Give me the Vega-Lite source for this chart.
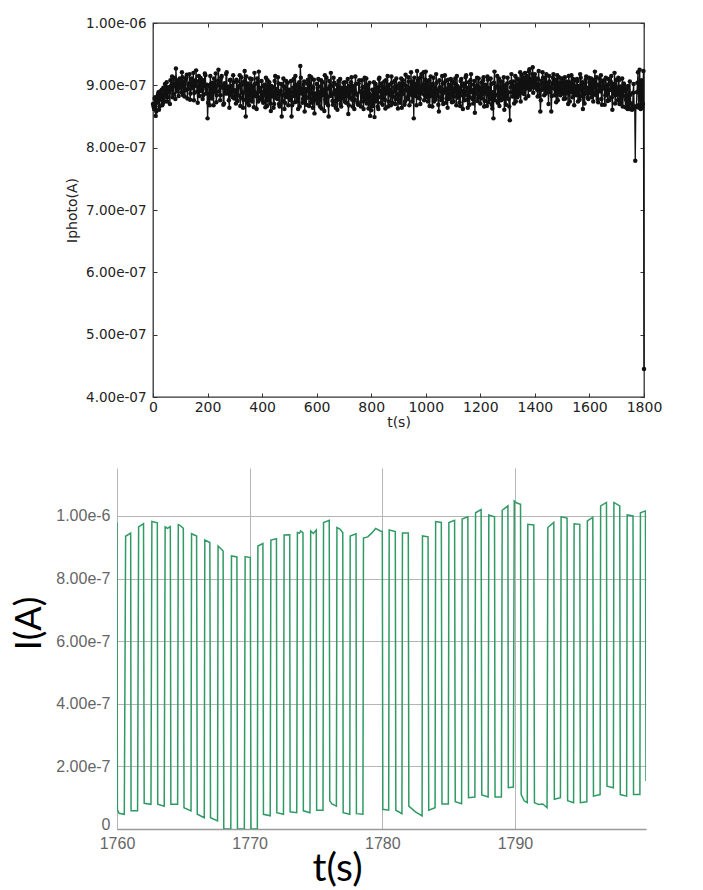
{
  "$schema": "https://vega.github.io/schema/vega-lite/v6.json",
  "background": "white",
  "padding": {"left": 11, "top": 15, "right": 0, "bottom": 0},
  "config": {
    "view": {"stroke": null},
    "axis": {"labelOverlap": false, "labelFlush": false, "titleFontWeight": "normal"}
  },
  "datasets": {
    "photo": [
      {"t":0,"i":8.70e-7},{"t":4,"i":8.62e-7},{"t":8,"i":8.81e-7},{"t":12,"i":8.58e-7},{"t":16,"i":8.76e-7},{"t":20,"i":8.89e-7},{"t":24,"i":8.66e-7},{"t":28,"i":8.84e-7},{"t":32,"i":8.93e-7},{"t":36,"i":8.71e-7},{"t":40,"i":8.80e-7},{"t":44,"i":9.02e-7},{"t":48,"i":8.85e-7},{"t":52,"i":8.74e-7},{"t":56,"i":8.97e-7},{"t":60,"i":8.89e-7},{"t":64,"i":9.08e-7},{"t":68,"i":8.93e-7},{"t":72,"i":8.81e-7},{"t":76,"i":9.12e-7},{"t":80,"i":8.99e-7},{"t":84,"i":9.27e-7},{"t":88,"i":8.90e-7},{"t":92,"i":9.04e-7},{"t":96,"i":8.96e-7},
      {"t":100,"i":9.05e-7},{"t":104,"i":8.89e-7},{"t":108,"i":9.13e-7},{"t":112,"i":8.98e-7},{"t":116,"i":8.82e-7},{"t":120,"i":9.09e-7},{"t":124,"i":9.17e-7},{"t":128,"i":8.94e-7},{"t":132,"i":9.03e-7},{"t":136,"i":8.77e-7},{"t":140,"i":9.11e-7},{"t":144,"i":8.96e-7},{"t":148,"i":9.20e-7},{"t":152,"i":8.88e-7},{"t":156,"i":9.07e-7},{"t":160,"i":8.99e-7},{"t":164,"i":8.72e-7},{"t":168,"i":9.15e-7},{"t":172,"i":9.02e-7},{"t":176,"i":8.91e-7},{"t":180,"i":9.09e-7},{"t":184,"i":8.84e-7},{"t":188,"i":8.98e-7},{"t":192,"i":9.16e-7},{"t":196,"i":8.93e-7},
      {"t":200,"i":8.47e-7},{"t":204,"i":8.86e-7},{"t":208,"i":8.68e-7},{"t":212,"i":9.02e-7},{"t":216,"i":8.79e-7},{"t":220,"i":8.95e-7},{"t":224,"i":9.11e-7},{"t":228,"i":8.89e-7},{"t":232,"i":8.73e-7},{"t":236,"i":9.00e-7},{"t":240,"i":9.25e-7},{"t":244,"i":9.06e-7},{"t":248,"i":8.84e-7},{"t":252,"i":9.15e-7},{"t":256,"i":8.96e-7},{"t":260,"i":8.71e-7},{"t":264,"i":9.03e-7},{"t":268,"i":9.18e-7},{"t":272,"i":8.87e-7},{"t":276,"i":8.98e-7},{"t":280,"i":8.64e-7},{"t":284,"i":9.09e-7},{"t":288,"i":8.93e-7},{"t":292,"i":8.81e-7},{"t":296,"i":9.05e-7},
      {"t":300,"i":8.92e-7},{"t":304,"i":8.71e-7},{"t":308,"i":9.06e-7},{"t":312,"i":8.84e-7},{"t":316,"i":8.99e-7},{"t":320,"i":8.67e-7},{"t":324,"i":9.13e-7},{"t":328,"i":8.88e-7},{"t":332,"i":8.77e-7},{"t":336,"i":9.23e-7},{"t":340,"i":8.50e-7},{"t":344,"i":8.95e-7},{"t":348,"i":9.03e-7},{"t":352,"i":8.68e-7},{"t":356,"i":9.11e-7},{"t":360,"i":8.86e-7},{"t":364,"i":8.74e-7},{"t":368,"i":8.99e-7},{"t":372,"i":9.20e-7},{"t":376,"i":8.83e-7},{"t":380,"i":8.62e-7},{"t":384,"i":9.05e-7},{"t":388,"i":9.22e-7},{"t":392,"i":8.90e-7},{"t":396,"i":8.78e-7},
      {"t":400,"i":8.89e-7},{"t":404,"i":8.72e-7},{"t":408,"i":9.01e-7},{"t":412,"i":8.65e-7},{"t":416,"i":8.84e-7},{"t":420,"i":9.08e-7},{"t":424,"i":8.76e-7},{"t":428,"i":8.93e-7},{"t":432,"i":8.59e-7},{"t":436,"i":8.82e-7},{"t":440,"i":8.97e-7},{"t":444,"i":8.70e-7},{"t":448,"i":9.15e-7},{"t":452,"i":8.87e-7},{"t":456,"i":8.78e-7},{"t":460,"i":9.03e-7},{"t":464,"i":8.66e-7},{"t":468,"i":8.91e-7},{"t":472,"i":8.50e-7},{"t":476,"i":8.84e-7},{"t":480,"i":8.98e-7},{"t":484,"i":8.72e-7},{"t":488,"i":9.07e-7},{"t":492,"i":8.81e-7},{"t":496,"i":8.68e-7},
      {"t":500,"i":8.93e-7},{"t":504,"i":8.76e-7},{"t":508,"i":8.50e-7},{"t":512,"i":8.89e-7},{"t":516,"i":9.10e-7},{"t":520,"i":8.73e-7},{"t":524,"i":8.98e-7},{"t":528,"i":8.84e-7},{"t":532,"i":8.62e-7},{"t":536,"i":9.05e-7},{"t":540,"i":9.31e-7},{"t":544,"i":8.87e-7},{"t":548,"i":8.72e-7},{"t":552,"i":9.01e-7},{"t":556,"i":8.58e-7},{"t":560,"i":8.94e-7},{"t":564,"i":8.80e-7},{"t":568,"i":9.09e-7},{"t":572,"i":8.67e-7},{"t":576,"i":8.90e-7},{"t":580,"i":9.13e-7},{"t":584,"i":8.78e-7},{"t":588,"i":8.96e-7},{"t":592,"i":8.55e-7},{"t":596,"i":8.85e-7},
      {"t":600,"i":9.02e-7},{"t":604,"i":8.71e-7},{"t":608,"i":8.89e-7},{"t":612,"i":8.66e-7},{"t":616,"i":9.08e-7},{"t":620,"i":8.84e-7},{"t":624,"i":8.93e-7},{"t":628,"i":8.59e-7},{"t":632,"i":8.77e-7},{"t":636,"i":9.12e-7},{"t":640,"i":8.81e-7},{"t":644,"i":8.50e-7},{"t":648,"i":8.98e-7},{"t":652,"i":9.20e-7},{"t":656,"i":8.87e-7},{"t":660,"i":8.69e-7},{"t":664,"i":9.04e-7},{"t":668,"i":8.75e-7},{"t":672,"i":8.92e-7},{"t":676,"i":8.61e-7},{"t":680,"i":9.07e-7},{"t":684,"i":8.83e-7},{"t":688,"i":8.70e-7},{"t":692,"i":8.96e-7},{"t":696,"i":8.79e-7},
      {"t":700,"i":8.88e-7},{"t":704,"i":9.05e-7},{"t":708,"i":8.72e-7},{"t":712,"i":8.91e-7},{"t":716,"i":8.54e-7},{"t":720,"i":8.99e-7},{"t":724,"i":8.80e-7},{"t":728,"i":9.13e-7},{"t":732,"i":8.66e-7},{"t":736,"i":8.94e-7},{"t":740,"i":8.77e-7},{"t":744,"i":9.02e-7},{"t":748,"i":8.85e-7},{"t":752,"i":8.69e-7},{"t":756,"i":9.08e-7},{"t":760,"i":8.90e-7},{"t":764,"i":8.74e-7},{"t":768,"i":8.97e-7},{"t":772,"i":8.62e-7},{"t":776,"i":9.12e-7},{"t":780,"i":8.83e-7},{"t":784,"i":8.71e-7},{"t":788,"i":9.00e-7},{"t":792,"i":8.87e-7},{"t":796,"i":8.51e-7},
      {"t":800,"i":8.60e-7},{"t":804,"i":8.93e-7},{"t":808,"i":8.76e-7},{"t":812,"i":8.49e-7},{"t":816,"i":9.02e-7},{"t":820,"i":8.84e-7},{"t":824,"i":8.66e-7},{"t":828,"i":9.10e-7},{"t":832,"i":8.91e-7},{"t":836,"i":8.72e-7},{"t":840,"i":8.98e-7},{"t":844,"i":8.79e-7},{"t":848,"i":9.06e-7},{"t":852,"i":8.63e-7},{"t":856,"i":8.87e-7},{"t":860,"i":9.15e-7},{"t":864,"i":8.74e-7},{"t":868,"i":8.93e-7},{"t":872,"i":8.68e-7},{"t":876,"i":9.04e-7},{"t":880,"i":8.82e-7},{"t":884,"i":8.97e-7},{"t":888,"i":8.70e-7},{"t":892,"i":9.11e-7},{"t":896,"i":8.85e-7},
      {"t":900,"i":8.76e-7},{"t":904,"i":9.03e-7},{"t":908,"i":8.89e-7},{"t":912,"i":8.64e-7},{"t":916,"i":9.08e-7},{"t":920,"i":8.92e-7},{"t":924,"i":8.74e-7},{"t":928,"i":8.99e-7},{"t":932,"i":8.81e-7},{"t":936,"i":9.13e-7},{"t":940,"i":8.68e-7},{"t":944,"i":8.96e-7},{"t":948,"i":8.85e-7},{"t":952,"i":9.06e-7},{"t":956,"i":8.47e-7},{"t":960,"i":8.89e-7},{"t":964,"i":9.02e-7},{"t":968,"i":9.23e-7},{"t":972,"i":8.80e-7},{"t":976,"i":9.11e-7},{"t":980,"i":8.70e-7},{"t":984,"i":9.18e-7},{"t":988,"i":8.93e-7},{"t":992,"i":9.21e-7},{"t":996,"i":8.84e-7},
      {"t":1000,"i":9.22e-7},{"t":1004,"i":8.90e-7},{"t":1008,"i":8.74e-7},{"t":1012,"i":9.08e-7},{"t":1016,"i":8.83e-7},{"t":1020,"i":8.99e-7},{"t":1024,"i":8.66e-7},{"t":1028,"i":9.12e-7},{"t":1032,"i":8.88e-7},{"t":1036,"i":8.77e-7},{"t":1040,"i":9.04e-7},{"t":1044,"i":8.92e-7},{"t":1048,"i":8.58e-7},{"t":1052,"i":8.97e-7},{"t":1056,"i":8.81e-7},{"t":1060,"i":9.15e-7},{"t":1064,"i":8.70e-7},{"t":1068,"i":8.93e-7},{"t":1072,"i":9.06e-7},{"t":1076,"i":8.79e-7},{"t":1080,"i":8.64e-7},{"t":1084,"i":9.01e-7},{"t":1088,"i":8.87e-7},{"t":1092,"i":9.10e-7},{"t":1096,"i":8.73e-7},
      {"t":1100,"i":8.95e-7},{"t":1104,"i":8.82e-7},{"t":1108,"i":9.11e-7},{"t":1112,"i":8.68e-7},{"t":1116,"i":8.99e-7},{"t":1120,"i":8.86e-7},{"t":1124,"i":8.73e-7},{"t":1128,"i":9.07e-7},{"t":1132,"i":8.91e-7},{"t":1136,"i":8.62e-7},{"t":1140,"i":9.03e-7},{"t":1144,"i":8.84e-7},{"t":1148,"i":9.16e-7},{"t":1152,"i":8.77e-7},{"t":1156,"i":8.96e-7},{"t":1160,"i":8.69e-7},{"t":1164,"i":9.08e-7},{"t":1168,"i":8.89e-7},{"t":1172,"i":8.78e-7},{"t":1176,"i":9.01e-7},{"t":1180,"i":8.56e-7},{"t":1184,"i":8.93e-7},{"t":1188,"i":9.12e-7},{"t":1192,"i":8.80e-7},{"t":1196,"i":8.97e-7},
      {"t":1200,"i":8.71e-7},{"t":1204,"i":9.04e-7},{"t":1208,"i":8.86e-7},{"t":1212,"i":9.13e-7},{"t":1216,"i":8.75e-7},{"t":1220,"i":8.98e-7},{"t":1224,"i":8.67e-7},{"t":1228,"i":9.09e-7},{"t":1232,"i":8.90e-7},{"t":1236,"i":8.78e-7},{"t":1240,"i":9.02e-7},{"t":1244,"i":8.63e-7},{"t":1248,"i":8.47e-7},{"t":1252,"i":9.22e-7},{"t":1256,"i":8.85e-7},{"t":1260,"i":8.97e-7},{"t":1264,"i":8.72e-7},{"t":1268,"i":9.11e-7},{"t":1272,"i":8.88e-7},{"t":1276,"i":8.76e-7},{"t":1280,"i":9.06e-7},{"t":1284,"i":8.93e-7},{"t":1288,"i":8.61e-7},{"t":1292,"i":9.00e-7},{"t":1296,"i":8.84e-7},
      {"t":1300,"i":9.12e-7},{"t":1304,"i":8.78e-7},{"t":1308,"i":8.44e-7},{"t":1312,"i":8.97e-7},{"t":1316,"i":8.89e-7},{"t":1320,"i":9.06e-7},{"t":1324,"i":8.71e-7},{"t":1328,"i":9.15e-7},{"t":1332,"i":8.93e-7},{"t":1336,"i":8.81e-7},{"t":1340,"i":9.09e-7},{"t":1344,"i":8.98e-7},{"t":1348,"i":8.74e-7},{"t":1352,"i":9.17e-7},{"t":1356,"i":9.02e-7},{"t":1360,"i":8.86e-7},{"t":1364,"i":9.20e-7},{"t":1368,"i":8.95e-7},{"t":1372,"i":9.08e-7},{"t":1376,"i":8.83e-7},{"t":1380,"i":9.26e-7},{"t":1384,"i":9.11e-7},{"t":1388,"i":8.97e-7},{"t":1392,"i":9.29e-7},{"t":1396,"i":9.04e-7},
      {"t":1400,"i":9.18e-7},{"t":1404,"i":9.01e-7},{"t":1408,"i":8.93e-7},{"t":1412,"i":9.10e-7},{"t":1416,"i":8.83e-7},{"t":1420,"i":8.58e-7},{"t":1424,"i":9.07e-7},{"t":1428,"i":9.21e-7},{"t":1432,"i":8.96e-7},{"t":1436,"i":9.12e-7},{"t":1440,"i":8.87e-7},{"t":1444,"i":9.04e-7},{"t":1448,"i":8.99e-7},{"t":1452,"i":9.15e-7},{"t":1456,"i":8.89e-7},{"t":1460,"i":8.58e-7},{"t":1464,"i":9.02e-7},{"t":1468,"i":9.18e-7},{"t":1472,"i":8.84e-7},{"t":1476,"i":9.09e-7},{"t":1480,"i":8.95e-7},{"t":1484,"i":8.76e-7},{"t":1488,"i":9.13e-7},{"t":1492,"i":8.91e-7},{"t":1496,"i":9.05e-7},
      {"t":1500,"i":8.87e-7},{"t":1504,"i":9.11e-7},{"t":1508,"i":8.96e-7},{"t":1512,"i":8.79e-7},{"t":1516,"i":9.06e-7},{"t":1520,"i":8.92e-7},{"t":1524,"i":9.15e-7},{"t":1528,"i":8.74e-7},{"t":1532,"i":9.01e-7},{"t":1536,"i":8.89e-7},{"t":1540,"i":9.10e-7},{"t":1544,"i":8.68e-7},{"t":1548,"i":8.98e-7},{"t":1552,"i":8.84e-7},{"t":1556,"i":9.07e-7},{"t":1560,"i":8.93e-7},{"t":1564,"i":8.77e-7},{"t":1568,"i":9.12e-7},{"t":1572,"i":8.95e-7},{"t":1576,"i":8.62e-7},{"t":1580,"i":9.03e-7},{"t":1584,"i":8.86e-7},{"t":1588,"i":9.14e-7},{"t":1592,"i":8.90e-7},{"t":1596,"i":8.78e-7},
      {"t":1600,"i":9.05e-7},{"t":1604,"i":8.92e-7},{"t":1608,"i":8.81e-7},{"t":1612,"i":9.09e-7},{"t":1616,"i":8.96e-7},{"t":1620,"i":9.22e-7},{"t":1624,"i":8.84e-7},{"t":1628,"i":9.00e-7},{"t":1632,"i":8.73e-7},{"t":1636,"i":9.11e-7},{"t":1640,"i":8.90e-7},{"t":1644,"i":8.78e-7},{"t":1648,"i":9.07e-7},{"t":1652,"i":8.95e-7},{"t":1656,"i":8.69e-7},{"t":1660,"i":9.12e-7},{"t":1664,"i":8.89e-7},{"t":1668,"i":9.01e-7},{"t":1672,"i":8.76e-7},{"t":1676,"i":8.93e-7},{"t":1680,"i":9.15e-7},{"t":1684,"i":8.61e-7},{"t":1688,"i":8.98e-7},{"t":1692,"i":9.20e-7},{"t":1696,"i":8.84e-7},
      {"t":1700,"i":8.97e-7},{"t":1704,"i":8.76e-7},{"t":1708,"i":9.08e-7},{"t":1712,"i":8.89e-7},{"t":1716,"i":8.72e-7},{"t":1720,"i":9.11e-7},{"t":1724,"i":8.83e-7},{"t":1728,"i":9.00e-7},{"t":1732,"i":8.65e-7},{"t":1736,"i":8.94e-7},{"t":1740,"i":8.62e-7},{"t":1744,"i":8.63e-7},{"t":1748,"i":9.06e-7},{"t":1752,"i":8.62e-7},{"t":1756,"i":8.61e-7},{"t":1760,"i":8.88e-7},{"t":1764,"i":8.64e-7},{"t":1768,"i":7.79e-7},{"t":1772,"i":8.66e-7},{"t":1776,"i":9.04e-7},{"t":1780,"i":8.68e-7},{"t":1784,"i":9.25e-7},{"t":1788,"i":8.62e-7},{"t":1792,"i":9.08e-7},{"t":1796,"i":8.70e-7},
      {"t":1800,"i":4.45e-7},
      {"t":2,"i":8.66e-7},{"t":6,"i":8.79e-7},{"t":10,"i":8.51e-7},{"t":14,"i":8.72e-7},{"t":18,"i":8.85e-7},{"t":22,"i":8.61e-7},{"t":26,"i":8.90e-7},{"t":30,"i":8.77e-7},{"t":34,"i":8.68e-7},{"t":38,"i":8.96e-7},{"t":42,"i":8.74e-7},{"t":46,"i":8.89e-7},{"t":50,"i":9.05e-7},{"t":54,"i":8.81e-7},{"t":58,"i":8.93e-7},{"t":62,"i":8.70e-7},{"t":66,"i":8.99e-7},{"t":70,"i":9.14e-7},{"t":74,"i":8.86e-7},{"t":78,"i":9.02e-7},{"t":82,"i":8.78e-7},{"t":86,"i":9.08e-7},{"t":90,"i":8.95e-7},{"t":94,"i":8.83e-7},{"t":98,"i":9.11e-7},
      {"t":102,"i":8.97e-7},{"t":106,"i":9.21e-7},{"t":110,"i":8.84e-7},{"t":114,"i":9.06e-7},{"t":118,"i":8.92e-7},{"t":122,"i":9.13e-7},{"t":126,"i":8.79e-7},{"t":130,"i":9.01e-7},{"t":134,"i":9.18e-7},{"t":138,"i":8.87e-7},{"t":142,"i":8.95e-7},{"t":146,"i":9.09e-7},{"t":150,"i":8.76e-7},{"t":154,"i":9.02e-7},{"t":158,"i":9.24e-7},{"t":162,"i":8.90e-7},{"t":166,"i":9.06e-7},{"t":170,"i":8.83e-7},{"t":174,"i":9.12e-7},{"t":178,"i":8.96e-7},{"t":182,"i":8.78e-7},{"t":186,"i":9.04e-7},{"t":190,"i":9.19e-7},{"t":194,"i":8.87e-7},{"t":198,"i":9.01e-7},
      {"t":202,"i":8.72e-7},{"t":206,"i":8.98e-7},{"t":210,"i":9.15e-7},{"t":214,"i":8.81e-7},{"t":218,"i":9.04e-7},{"t":222,"i":8.68e-7},{"t":226,"i":8.93e-7},{"t":230,"i":9.19e-7},{"t":234,"i":8.84e-7},{"t":238,"i":9.07e-7},{"t":242,"i":8.90e-7},{"t":246,"i":8.76e-7},{"t":250,"i":9.12e-7},{"t":254,"i":8.98e-7},{"t":258,"i":8.69e-7},{"t":262,"i":9.03e-7},{"t":266,"i":8.87e-7},{"t":270,"i":9.21e-7},{"t":274,"i":8.94e-7},{"t":278,"i":8.76e-7},{"t":282,"i":9.08e-7},{"t":286,"i":8.85e-7},{"t":290,"i":8.99e-7},{"t":294,"i":9.16e-7},{"t":298,"i":8.79e-7},
      {"t":302,"i":8.83e-7},{"t":306,"i":9.09e-7},{"t":310,"i":8.75e-7},{"t":314,"i":8.97e-7},{"t":318,"i":9.16e-7},{"t":322,"i":8.80e-7},{"t":326,"i":9.01e-7},{"t":330,"i":8.64e-7},{"t":334,"i":9.06e-7},{"t":338,"i":8.89e-7},{"t":342,"i":9.14e-7},{"t":346,"i":8.72e-7},{"t":350,"i":8.87e-7},{"t":354,"i":8.98e-7},{"t":358,"i":8.76e-7},{"t":362,"i":9.10e-7},{"t":366,"i":8.93e-7},{"t":370,"i":8.65e-7},{"t":374,"i":9.02e-7},{"t":378,"i":8.88e-7},{"t":382,"i":9.11e-7},{"t":386,"i":8.74e-7},{"t":390,"i":8.96e-7},{"t":394,"i":8.81e-7},{"t":398,"i":9.07e-7},
      {"t":402,"i":8.76e-7},{"t":406,"i":8.98e-7},{"t":410,"i":8.84e-7},{"t":414,"i":9.12e-7},{"t":418,"i":8.67e-7},{"t":422,"i":8.93e-7},{"t":426,"i":9.05e-7},{"t":430,"i":8.71e-7},{"t":434,"i":8.99e-7},{"t":438,"i":8.88e-7},{"t":442,"i":8.64e-7},{"t":446,"i":9.07e-7},{"t":450,"i":8.80e-7},{"t":454,"i":8.94e-7},{"t":458,"i":9.13e-7},{"t":462,"i":8.70e-7},{"t":466,"i":8.86e-7},{"t":470,"i":9.02e-7},{"t":474,"i":8.75e-7},{"t":478,"i":9.11e-7},{"t":482,"i":8.62e-7},{"t":486,"i":8.95e-7},{"t":490,"i":8.82e-7},{"t":494,"i":9.04e-7},{"t":498,"i":8.90e-7},
      {"t":502,"i":8.81e-7},{"t":506,"i":9.07e-7},{"t":510,"i":8.68e-7},{"t":514,"i":8.96e-7},{"t":518,"i":8.83e-7},{"t":522,"i":9.15e-7},{"t":526,"i":8.74e-7},{"t":530,"i":9.01e-7},{"t":534,"i":8.89e-7},{"t":538,"i":8.66e-7},{"t":542,"i":9.12e-7},{"t":546,"i":8.95e-7},{"t":550,"i":8.78e-7},{"t":554,"i":9.06e-7},{"t":558,"i":8.84e-7},{"t":562,"i":8.69e-7},{"t":566,"i":9.03e-7},{"t":570,"i":8.91e-7},{"t":574,"i":9.15e-7},{"t":578,"i":8.72e-7},{"t":582,"i":8.98e-7},{"t":586,"i":8.64e-7},{"t":590,"i":9.09e-7},{"t":594,"i":8.87e-7},{"t":598,"i":8.76e-7},
      {"t":602,"i":8.84e-7},{"t":606,"i":9.10e-7},{"t":610,"i":8.77e-7},{"t":614,"i":8.98e-7},{"t":618,"i":8.63e-7},{"t":622,"i":9.05e-7},{"t":626,"i":8.89e-7},{"t":630,"i":9.16e-7},{"t":634,"i":8.72e-7},{"t":638,"i":8.94e-7},{"t":642,"i":8.68e-7},{"t":646,"i":9.07e-7},{"t":650,"i":8.83e-7},{"t":654,"i":8.99e-7},{"t":658,"i":8.75e-7},{"t":662,"i":9.12e-7},{"t":666,"i":8.86e-7},{"t":670,"i":8.64e-7},{"t":674,"i":9.01e-7},{"t":678,"i":8.93e-7},{"t":682,"i":8.77e-7},{"t":686,"i":9.10e-7},{"t":690,"i":8.66e-7},{"t":694,"i":8.89e-7},{"t":698,"i":9.04e-7},
      {"t":702,"i":8.74e-7},{"t":706,"i":8.96e-7},{"t":710,"i":8.83e-7},{"t":714,"i":9.10e-7},{"t":718,"i":8.68e-7},{"t":722,"i":8.93e-7},{"t":726,"i":9.05e-7},{"t":730,"i":8.77e-7},{"t":734,"i":8.99e-7},{"t":738,"i":8.62e-7},{"t":742,"i":9.14e-7},{"t":746,"i":8.86e-7},{"t":750,"i":8.72e-7},{"t":754,"i":9.03e-7},{"t":758,"i":8.90e-7},{"t":762,"i":8.66e-7},{"t":766,"i":9.08e-7},{"t":770,"i":8.81e-7},{"t":774,"i":8.97e-7},{"t":778,"i":8.75e-7},{"t":782,"i":9.11e-7},{"t":786,"i":8.92e-7},{"t":790,"i":8.63e-7},{"t":794,"i":9.04e-7},{"t":798,"i":8.79e-7},
      {"t":802,"i":8.84e-7},{"t":806,"i":8.67e-7},{"t":810,"i":9.05e-7},{"t":814,"i":8.90e-7},{"t":818,"i":8.74e-7},{"t":822,"i":8.97e-7},{"t":826,"i":8.62e-7},{"t":830,"i":9.12e-7},{"t":834,"i":8.81e-7},{"t":838,"i":9.03e-7},{"t":842,"i":8.69e-7},{"t":846,"i":8.93e-7},{"t":850,"i":8.77e-7},{"t":854,"i":9.08e-7},{"t":858,"i":8.96e-7},{"t":862,"i":8.66e-7},{"t":866,"i":9.01e-7},{"t":870,"i":8.85e-7},{"t":874,"i":9.14e-7},{"t":878,"i":8.72e-7},{"t":882,"i":8.90e-7},{"t":886,"i":9.07e-7},{"t":890,"i":8.78e-7},{"t":894,"i":8.99e-7},{"t":898,"i":8.63e-7},
      {"t":902,"i":8.95e-7},{"t":906,"i":8.72e-7},{"t":910,"i":9.11e-7},{"t":914,"i":8.86e-7},{"t":918,"i":9.02e-7},{"t":922,"i":8.69e-7},{"t":926,"i":9.17e-7},{"t":930,"i":8.93e-7},{"t":934,"i":8.78e-7},{"t":938,"i":9.06e-7},{"t":942,"i":8.89e-7},{"t":946,"i":9.21e-7},{"t":950,"i":8.74e-7},{"t":954,"i":8.98e-7},{"t":958,"i":9.12e-7},{"t":962,"i":8.83e-7},{"t":966,"i":8.68e-7},{"t":970,"i":9.07e-7},{"t":974,"i":8.95e-7},{"t":978,"i":8.79e-7},{"t":982,"i":9.13e-7},{"t":986,"i":8.87e-7},{"t":990,"i":9.01e-7},{"t":994,"i":8.76e-7},{"t":998,"i":9.09e-7},
      {"t":1002,"i":8.81e-7},{"t":1006,"i":9.05e-7},{"t":1010,"i":8.93e-7},{"t":1014,"i":8.67e-7},{"t":1018,"i":9.14e-7},{"t":1022,"i":8.86e-7},{"t":1026,"i":9.02e-7},{"t":1030,"i":8.74e-7},{"t":1034,"i":8.97e-7},{"t":1038,"i":9.18e-7},{"t":1042,"i":8.83e-7},{"t":1046,"i":8.69e-7},{"t":1050,"i":9.08e-7},{"t":1054,"i":8.91e-7},{"t":1058,"i":8.76e-7},{"t":1062,"i":9.03e-7},{"t":1066,"i":8.88e-7},{"t":1070,"i":9.16e-7},{"t":1074,"i":8.72e-7},{"t":1078,"i":8.95e-7},{"t":1082,"i":9.09e-7},{"t":1086,"i":8.78e-7},{"t":1090,"i":8.99e-7},{"t":1094,"i":8.84e-7},{"t":1098,"i":9.06e-7},
      {"t":1102,"i":8.74e-7},{"t":1106,"i":9.03e-7},{"t":1110,"i":8.89e-7},{"t":1114,"i":9.15e-7},{"t":1118,"i":8.80e-7},{"t":1122,"i":8.96e-7},{"t":1126,"i":8.67e-7},{"t":1130,"i":9.10e-7},{"t":1134,"i":8.84e-7},{"t":1138,"i":8.99e-7},{"t":1142,"i":8.76e-7},{"t":1146,"i":9.13e-7},{"t":1150,"i":8.90e-7},{"t":1154,"i":8.64e-7},{"t":1158,"i":9.05e-7},{"t":1162,"i":8.81e-7},{"t":1166,"i":9.18e-7},{"t":1170,"i":8.93e-7},{"t":1174,"i":8.71e-7},{"t":1178,"i":9.07e-7},{"t":1182,"i":8.86e-7},{"t":1186,"i":8.98e-7},{"t":1190,"i":8.75e-7},{"t":1194,"i":9.11e-7},{"t":1198,"i":8.83e-7},
      {"t":1202,"i":8.93e-7},{"t":1206,"i":8.79e-7},{"t":1210,"i":9.08e-7},{"t":1214,"i":8.66e-7},{"t":1218,"i":9.01e-7},{"t":1222,"i":8.87e-7},{"t":1226,"i":9.14e-7},{"t":1230,"i":8.73e-7},{"t":1234,"i":8.96e-7},{"t":1238,"i":9.11e-7},{"t":1242,"i":8.69e-7},{"t":1246,"i":8.89e-7},{"t":1250,"i":9.04e-7},{"t":1254,"i":8.76e-7},{"t":1258,"i":8.98e-7},{"t":1262,"i":9.15e-7},{"t":1266,"i":8.82e-7},{"t":1270,"i":8.67e-7},{"t":1274,"i":9.06e-7},{"t":1278,"i":8.91e-7},{"t":1282,"i":8.78e-7},{"t":1286,"i":9.13e-7},{"t":1290,"i":8.86e-7},{"t":1294,"i":8.69e-7},{"t":1298,"i":9.03e-7},
      {"t":1302,"i":8.89e-7},{"t":1306,"i":8.66e-7},{"t":1310,"i":9.05e-7},{"t":1314,"i":9.18e-7},{"t":1318,"i":8.82e-7},{"t":1322,"i":8.99e-7},{"t":1326,"i":8.91e-7},{"t":1330,"i":8.74e-7},{"t":1334,"i":9.11e-7},{"t":1338,"i":8.95e-7},{"t":1342,"i":8.85e-7},{"t":1346,"i":9.21e-7},{"t":1350,"i":9.03e-7},{"t":1354,"i":8.88e-7},{"t":1358,"i":9.12e-7},{"t":1362,"i":8.96e-7},{"t":1366,"i":8.79e-7},{"t":1370,"i":9.15e-7},{"t":1374,"i":9.01e-7},{"t":1378,"i":9.22e-7},{"t":1382,"i":8.93e-7},{"t":1386,"i":9.07e-7},{"t":1390,"i":9.18e-7},{"t":1394,"i":8.88e-7},{"t":1398,"i":9.13e-7},
      {"t":1402,"i":8.96e-7},{"t":1406,"i":9.11e-7},{"t":1410,"i":8.82e-7},{"t":1414,"i":9.23e-7},{"t":1418,"i":9.01e-7},{"t":1422,"i":8.76e-7},{"t":1426,"i":8.93e-7},{"t":1430,"i":9.12e-7},{"t":1434,"i":8.84e-7},{"t":1438,"i":9.02e-7},{"t":1442,"i":9.18e-7},{"t":1446,"i":8.91e-7},{"t":1450,"i":8.70e-7},{"t":1454,"i":9.06e-7},{"t":1458,"i":8.97e-7},{"t":1462,"i":8.83e-7},{"t":1466,"i":9.12e-7},{"t":1470,"i":8.95e-7},{"t":1474,"i":9.04e-7},{"t":1478,"i":8.73e-7},{"t":1482,"i":9.16e-7},{"t":1486,"i":8.89e-7},{"t":1490,"i":9.01e-7},{"t":1494,"i":8.84e-7},{"t":1498,"i":9.11e-7},
      {"t":1502,"i":8.99e-7},{"t":1506,"i":8.78e-7},{"t":1510,"i":9.13e-7},{"t":1514,"i":8.87e-7},{"t":1518,"i":9.02e-7},{"t":1522,"i":8.70e-7},{"t":1526,"i":9.05e-7},{"t":1530,"i":8.93e-7},{"t":1534,"i":9.16e-7},{"t":1538,"i":8.81e-7},{"t":1542,"i":8.96e-7},{"t":1546,"i":9.08e-7},{"t":1550,"i":8.85e-7},{"t":1554,"i":9.10e-7},{"t":1558,"i":8.74e-7},{"t":1562,"i":8.99e-7},{"t":1566,"i":9.18e-7},{"t":1570,"i":8.83e-7},{"t":1574,"i":9.05e-7},{"t":1578,"i":8.91e-7},{"t":1582,"i":8.71e-7},{"t":1586,"i":9.09e-7},{"t":1590,"i":8.96e-7},{"t":1594,"i":8.80e-7},{"t":1598,"i":9.12e-7},
      {"t":1602,"i":8.87e-7},{"t":1606,"i":9.11e-7},{"t":1610,"i":8.97e-7},{"t":1614,"i":8.74e-7},{"t":1618,"i":9.05e-7},{"t":1622,"i":8.89e-7},{"t":1626,"i":9.13e-7},{"t":1630,"i":8.78e-7},{"t":1634,"i":9.01e-7},{"t":1638,"i":8.92e-7},{"t":1642,"i":9.16e-7},{"t":1646,"i":8.69e-7},{"t":1650,"i":8.96e-7},{"t":1654,"i":9.08e-7},{"t":1658,"i":8.84e-7},{"t":1662,"i":8.99e-7},{"t":1666,"i":8.75e-7},{"t":1670,"i":9.10e-7},{"t":1674,"i":8.93e-7},{"t":1678,"i":9.06e-7},{"t":1682,"i":8.81e-7},{"t":1686,"i":9.02e-7},{"t":1690,"i":8.87e-7},{"t":1694,"i":8.71e-7},{"t":1698,"i":9.09e-7},
      {"t":1702,"i":8.89e-7},{"t":1706,"i":9.12e-7},{"t":1710,"i":8.70e-7},{"t":1714,"i":8.98e-7},{"t":1718,"i":8.84e-7},{"t":1722,"i":8.66e-7},{"t":1726,"i":9.03e-7},{"t":1730,"i":8.91e-7},{"t":1734,"i":8.77e-7},{"t":1738,"i":8.64e-7},{"t":1742,"i":8.99e-7},{"t":1746,"i":8.62e-7},{"t":1750,"i":8.85e-7},{"t":1754,"i":8.71e-7},{"t":1758,"i":8.62e-7},{"t":1762,"i":9.02e-7},{"t":1766,"i":8.66e-7},{"t":1770,"i":8.65e-7},{"t":1774,"i":8.89e-7},{"t":1778,"i":9.21e-7},{"t":1782,"i":8.64e-7},{"t":1786,"i":8.97e-7},{"t":1790,"i":9.05e-7},{"t":1794,"i":8.64e-7},{"t":1798,"i":9.23e-7}
    ],
    "pulse": [
      {"t":1760.00,"i":9.79e-7},{"t":1760.03,"i":6.2e-8},{"t":1760.15,"i":5.0e-8},{"t":1760.55,"i":4.7e-8},
      {"t":1760.65,"i":9.35e-7},{"t":1761.03,"i":9.45e-7},{"t":1761.06,"i":5.8e-8},{"t":1761.55,"i":5.8e-8},
      {"t":1761.63,"i":9.65e-7},{"t":1762.00,"i":9.75e-7},{"t":1762.05,"i":8.2e-8},{"t":1762.56,"i":7.9e-8},
      {"t":1762.63,"i":9.82e-7},{"t":1763.04,"i":9.78e-7},{"t":1763.07,"i":7.9e-8},{"t":1763.56,"i":7.3e-8},
      {"t":1763.63,"i":9.65e-7},{"t":1763.80,"i":9.60e-7},{"t":1764.02,"i":9.66e-7},{"t":1764.06,"i":7.9e-8},{"t":1764.57,"i":7.9e-8},
      {"t":1764.62,"i":9.72e-7},{"t":1764.75,"i":9.70e-7},{"t":1765.00,"i":9.60e-7},{"t":1765.05,"i":6.8e-8},{"t":1765.58,"i":5.8e-8},
      {"t":1765.62,"i":9.43e-7},{"t":1766.00,"i":9.36e-7},{"t":1766.05,"i":4.7e-8},{"t":1766.58,"i":3.6e-8},
      {"t":1766.62,"i":9.23e-7},{"t":1767.00,"i":9.15e-7},{"t":1767.05,"i":3.6e-8},{"t":1767.58,"i":2.6e-8},
      {"t":1767.62,"i":9.04e-7},{"t":1768.00,"i":8.88e-7},{"t":1768.05,"i":0},{"t":1768.58,"i":0},
      {"t":1768.63,"i":8.72e-7},{"t":1769.04,"i":8.69e-7},{"t":1769.08,"i":0},{"t":1769.60,"i":0},
      {"t":1769.66,"i":8.70e-7},{"t":1770.05,"i":8.67e-7},{"t":1770.10,"i":0},{"t":1770.58,"i":0},
      {"t":1770.62,"i":9.04e-7},{"t":1771.00,"i":9.12e-7},{"t":1771.04,"i":4.7e-8},{"t":1771.55,"i":4.2e-8},
      {"t":1771.60,"i":9.23e-7},{"t":1772.02,"i":9.27e-7},{"t":1772.05,"i":5.2e-8},{"t":1772.55,"i":4.7e-8},
      {"t":1772.60,"i":9.39e-7},{"t":1773.02,"i":9.40e-7},{"t":1773.05,"i":5.5e-8},{"t":1773.55,"i":5.2e-8},
      {"t":1773.60,"i":9.47e-7},{"t":1773.75,"i":9.45e-7},{"t":1773.85,"i":9.52e-7},{"t":1774.02,"i":9.46e-7},{"t":1774.05,"i":5.8e-8},{"t":1774.55,"i":5.2e-8},
      {"t":1774.60,"i":9.52e-7},{"t":1774.80,"i":9.44e-7},{"t":1775.02,"i":9.55e-7},{"t":1775.05,"i":6.0e-8},{"t":1775.53,"i":6.0e-8},
      {"t":1775.57,"i":9.79e-7},{"t":1776.00,"i":9.86e-7},{"t":1776.04,"i":9.0e-8},{"t":1776.20,"i":8.0e-8},{"t":1776.54,"i":7.3e-8},
      {"t":1776.58,"i":9.63e-7},{"t":1776.80,"i":9.58e-7},{"t":1777.02,"i":9.47e-7},{"t":1777.05,"i":5.2e-8},{"t":1777.55,"i":4.7e-8},
      {"t":1777.58,"i":9.36e-7},{"t":1778.02,"i":9.43e-7},{"t":1778.05,"i":4.9e-8},{"t":1778.54,"i":4.7e-8},
      {"t":1778.58,"i":9.29e-7},{"t":1778.90,"i":9.33e-7},{"t":1779.20,"i":9.45e-7},{"t":1779.50,"i":9.60e-7},{"t":1779.85,"i":9.52e-7},{"t":1780.00,"i":9.50e-7},
      {"t":1780.04,"i":6.3e-8},{"t":1780.48,"i":6.0e-8},{"t":1780.52,"i":9.55e-7},{"t":1780.98,"i":9.50e-7},
      {"t":1781.02,"i":6.0e-8},{"t":1781.48,"i":4.9e-8},{"t":1781.52,"i":9.45e-7},{"t":1781.96,"i":9.45e-7},
      {"t":1782.00,"i":7.3e-8},{"t":1782.50,"i":5.5e-8},{"t":1783.00,"i":4.2e-8},{"t":1783.03,"i":9.36e-7},{"t":1783.45,"i":9.33e-7},
      {"t":1783.50,"i":6.0e-8},{"t":1783.98,"i":6.8e-8},{"t":1784.02,"i":9.82e-7},{"t":1784.45,"i":9.79e-7},
      {"t":1784.50,"i":8.0e-8},{"t":1784.98,"i":8.0e-8},{"t":1785.02,"i":9.79e-7},{"t":1785.45,"i":9.86e-7},
      {"t":1785.50,"i":8.7e-8},{"t":1785.98,"i":8.1e-8},{"t":1786.02,"i":9.90e-7},{"t":1786.45,"i":9.97e-7},
      {"t":1786.50,"i":1.00e-7},{"t":1786.98,"i":1.02e-7},{"t":1787.03,"i":1.010e-6},{"t":1787.45,"i":1.020e-6},
      {"t":1787.50,"i":1.09e-7},{"t":1787.98,"i":1.02e-7},{"t":1788.03,"i":1.003e-6},{"t":1788.46,"i":9.97e-7},
      {"t":1788.50,"i":1.02e-7},{"t":1788.98,"i":1.02e-7},{"t":1789.04,"i":1.018e-6},{"t":1789.47,"i":1.032e-6},
      {"t":1789.50,"i":1.32e-7},{"t":1789.88,"i":1.34e-7},{"t":1789.95,"i":1.048e-6},{"t":1790.10,"i":1.042e-6},{"t":1790.42,"i":1.037e-6},
      {"t":1790.47,"i":1.10e-7},{"t":1790.70,"i":9.0e-8},{"t":1790.93,"i":8.4e-8},{"t":1790.97,"i":9.73e-7},{"t":1791.42,"i":9.71e-7},
      {"t":1791.47,"i":8.4e-8},{"t":1791.80,"i":7.8e-8},{"t":1792.10,"i":8.0e-8},{"t":1792.42,"i":6.8e-8},{"t":1792.48,"i":9.63e-7},{"t":1792.93,"i":9.79e-7},
      {"t":1792.97,"i":9.5e-8},{"t":1793.43,"i":1.00e-7},{"t":1793.48,"i":9.97e-7},{"t":1793.93,"i":9.93e-7},
      {"t":1793.97,"i":9.0e-8},{"t":1794.42,"i":8.4e-8},{"t":1794.46,"i":9.75e-7},{"t":1794.89,"i":9.73e-7},
      {"t":1794.93,"i":8.4e-8},{"t":1795.42,"i":8.7e-8},{"t":1795.46,"i":9.84e-7},{"t":1795.87,"i":9.95e-7},
      {"t":1795.92,"i":1.05e-7},{"t":1796.42,"i":1.10e-7},{"t":1796.46,"i":1.032e-6},{"t":1796.90,"i":1.043e-6},
      {"t":1796.94,"i":1.37e-7},{"t":1797.42,"i":1.32e-7},{"t":1797.46,"i":1.043e-6},{"t":1797.90,"i":1.032e-6},
      {"t":1797.94,"i":1.10e-7},{"t":1798.42,"i":1.05e-7},{"t":1798.46,"i":1.003e-6},{"t":1798.90,"i":1.000e-6},
      {"t":1798.94,"i":1.10e-7},{"t":1799.42,"i":1.10e-7},{"t":1799.46,"i":1.010e-6},{"t":1799.84,"i":1.016e-6},
      {"t":1799.88,"i":1.53e-7}
    ]
  },
  "columns": 1,
  "bounds": "flush",
  "spacing": 445,
  "concat": [
    {
      "spacing": 0,
      "bounds": "flush",
      "hconcat": [
        {
          "width": 36,
          "height": 374,
          "data": {"values": [{"s": ""}]},
          "mark": {"type": "text", "opacity": 0},
          "encoding": {"text": {"field": "s"}}
        },
        {
          "width": 491,
          "height": 374,
          "view": {"stroke": "#333", "strokeWidth": 1.3},
          "data": {"name": "photo"},
          "layer": [
            {
              "mark": {"type": "line", "color": "#111", "strokeWidth": 1.3},
              "encoding": {
                "x": {
                  "field": "t", "type": "quantitative",
                  "scale": {"domain": [0, 1800], "nice": false, "zero": false},
                  "axis": {
                    "orient": "bottom", "title": "t(s)",
                    "values": [0, 200, 400, 600, 800, 1000, 1200, 1400, 1600, 1800],
                    "format": "d", "domain": false, "grid": false,
                    "tickSize": -4, "tickColor": "#333", "tickWidth": 1,
                    "labelPadding": 7, "labelFont": "DejaVu Sans", "labelFontSize": 14, "labelColor": "#222",
                    "titleFont": "DejaVu Sans", "titleFontSize": 14, "titleColor": "#222", "titlePadding": 1
                  }
                },
                "y": {
                  "field": "i", "type": "quantitative",
                  "scale": {"domain": [4e-7, 1e-6], "nice": false, "zero": false},
                  "axis": {
                    "orient": "left", "title": "Iphoto(A)",
                    "values": [4e-7, 5e-7, 6e-7, 7e-7, 8e-7, 9e-7, 1e-6],
                    "labelExpr": "replace(format(datum.value, '.2e'), 'e-', 'e-0')",
                    "domain": false, "grid": false,
                    "tickSize": -4, "tickColor": "#333", "tickWidth": 1,
                    "labelPadding": 11, "labelFont": "DejaVu Sans", "labelFontSize": 13.5, "labelColor": "#222",
                    "titleFont": "DejaVu Sans", "titleFontSize": 14, "titleColor": "#222", "titlePadding": 6
                  }
                }
              }
            },
            {
              "mark": {"type": "circle", "color": "#111", "size": 20, "opacity": 1},
              "encoding": {
                "x": {
                  "field": "t", "type": "quantitative",
                  "scale": {"domain": [0, 1800], "nice": false, "zero": false},
                  "axis": {
                    "orient": "top", "title": null, "labels": false, "domain": false, "grid": false,
                    "values": [0, 200, 400, 600, 800, 1000, 1200, 1400, 1600, 1800],
                    "tickSize": -4, "tickColor": "#333", "tickWidth": 1
                  }
                },
                "y": {
                  "field": "i", "type": "quantitative",
                  "scale": {"domain": [4e-7, 1e-6], "nice": false, "zero": false},
                  "axis": {
                    "orient": "right", "title": null, "labels": false, "domain": false, "grid": false,
                    "values": [4e-7, 5e-7, 6e-7, 7e-7, 8e-7, 9e-7, 1e-6],
                    "tickSize": -4, "tickColor": "#333", "tickWidth": 1
                  }
                }
              }
            }
          ],
          "resolve": {"axis": {"x": "independent", "y": "independent"}}
        }
      ]
    },
    {
      "width": 529,
      "height": 361,
      "data": {"name": "pulse"},
      "mark": {"type": "line", "color": "#2f9a63", "strokeWidth": 1.5, "clip": true},
      "encoding": {
        "x": {
          "field": "t", "type": "quantitative",
          "scale": {"domain": [1760, 1799.88], "nice": false, "zero": false},
          "axis": {
            "values": [1760, 1770, 1780, 1790], "format": "d",
            "grid": true, "gridColor": "#b5b5b5", "gridWidth": 1,
            "ticks": false, "domain": true, "domainColor": "#9a9a9a", "domainWidth": 1.5,
            "labelFont": "Liberation Sans", "labelFontSize": 16, "labelColor": "#666", "labelPadding": 6,
            "title": "t(s)", "titleFont": "Lato", "titleFontSize": 39, "titleColor": "#000",
            "titleX": 220, "titleY": 51, "titleAlign": "center", "titleBaseline": "alphabetic"
          }
        },
        "y": {
          "field": "i", "type": "quantitative",
          "scale": {"domain": [0, 1.153e-6], "nice": false, "zero": false},
          "axis": {
            "values": [0, 2e-7, 4e-7, 6e-7, 8e-7, 1e-6],
            "labelExpr": "datum.value == 0 ? '0' : format(datum.value, '.2e')",
            "labelBaseline": {"condition": {"test": "datum.value == 0", "value": "alphabetic"}, "value": "middle"},
            "grid": true, "gridColor": "#b5b5b5", "gridWidth": 1,
            "ticks": false, "domain": false,
            "labelFont": "Liberation Sans", "labelFontSize": 16, "labelColor": "#666", "labelPadding": 7,
            "title": "I(A)", "titleFont": "Lato", "titleFontSize": 36, "titleColor": "#000",
            "titleAngle": -90, "titleX": -88, "titleY": 155, "titleAlign": "center", "titleBaseline": "middle"
          }
        }
      }
    }
  ]
}
